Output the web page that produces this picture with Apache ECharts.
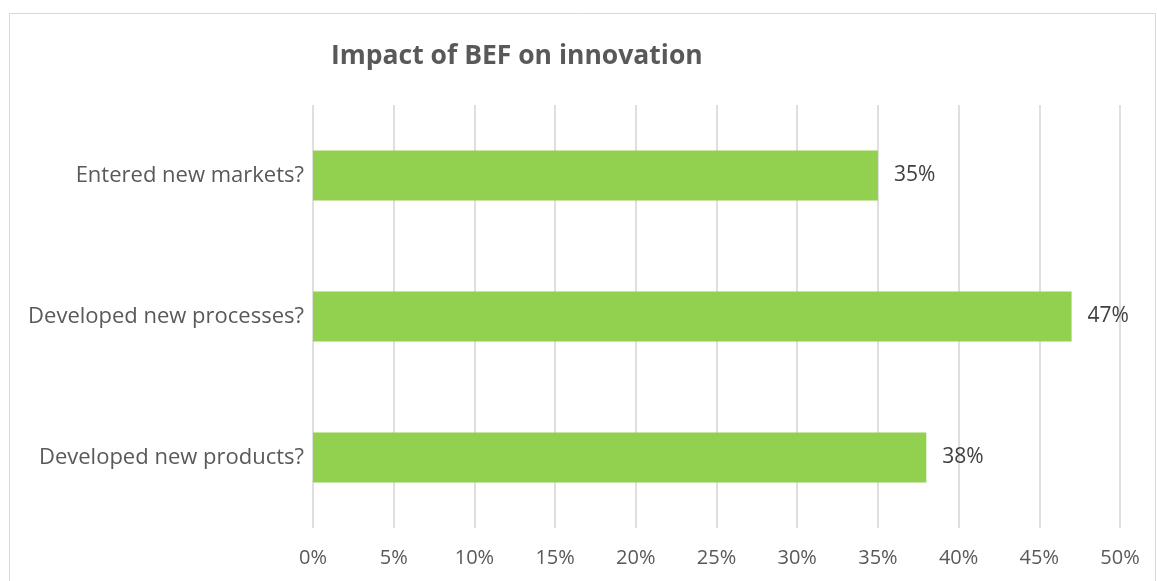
<!DOCTYPE html>
<html><head><meta charset="utf-8">
<script src="https://cdn.jsdelivr.net/npm/echarts@6/dist/echarts.min.js"></script>
<style>html,body{margin:0;padding:0;background:#fff}#c{width:1157px;height:581px}</style>
</head><body><div id="c"></div>
<script>
const categories = ["Developed new products?", "Developed new processes?", "Entered new markets?"];
const values = [38, 47, 35];
const xTicks = [0, 5, 10, 15, 20, 25, 30, 35, 40, 45, 50];
const titleText = "Impact of BEF on innovation";

const chart = echarts.init(document.getElementById('c'), null, {renderer: 'canvas'});
const font = "'Open Sans', 'Noto Sans', sans-serif";
chart.setOption({
  animation: false,
  backgroundColor: '#fff',
  graphic: [{type: 'rect', shape: {x: 9.5, y: 13.5, width: 1146, height: 600}, style: {fill: 'none', stroke: '#d9d9d9', lineWidth: 1}}],
  title: {text: titleText, left: 326, top: 38, textStyle: {fontFamily: font, fontSize: 26.5, fontWeight: 'bold', color: '#595959'}},
  grid: {left: 313, right: 37, top: 105, bottom: 53, containLabel: false},
  xAxis: {type: 'value', min: xTicks[0], max: xTicks[xTicks.length-1], interval: 5,
    axisLine: {show: false}, axisTick: {show: false},
    splitLine: {show: true, lineStyle: {color: '#d4d4d4', width: 1.5}},
    axisLabel: {formatter: v => v + '%', fontFamily: font, fontSize: 20, color: '#595959', margin: 20}},
  yAxis: {type: 'category', data: categories,
    axisLine: {show: false}, axisTick: {show: false},
    axisLabel: {fontFamily: font, fontSize: 22, color: '#595959', margin: 9}},
  series: [{type: 'bar', data: values, barWidth: 50, itemStyle: {color: '#92d050'},
    label: {show: true, position: 'right', distance: 16, formatter: p => p.value + '%', fontFamily: font, fontSize: 21, color: '#404040'}}]
});
</script></body></html>
